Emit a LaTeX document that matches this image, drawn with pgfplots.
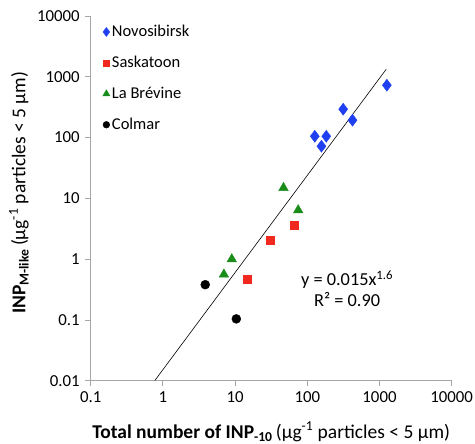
\documentclass[border=0pt]{standalone}
\usepackage{fontspec}
\setmainfont{Carlito}
\usepackage{pgfplots}
\pgfplotsset{compat=1.18}
\definecolor{novo}{HTML}{1F3FF0}
\definecolor{sask}{HTML}{F0281E}
\definecolor{brev}{HTML}{1A8C1A}
\definecolor{axgray}{HTML}{A6A6A6}
\begin{document}
\begin{tikzpicture}
\path[use as bounding box] (-90.7pt,-63.3pt) rectangle (384.3pt,380.7pt);
\begin{axis}[
  at={(0pt,0pt)}, anchor=south west,
  scale only axis, width=361pt, height=364.7pt,
  xmode=log, ymode=log,
  xmin=0.1, xmax=10000, ymin=0.01, ymax=10000,
  axis x line*=bottom, axis y line*=left,
  axis line style={axgray, line width=0.8pt, -},
  xtick={0.1,1,10,100,1000,10000},
  xticklabels={0.1,1,10,100,1000,10000},
  ytick={0.01,0.1,1,10,100,1000,10000},
  yticklabels={0.01,0.1,1,10,100,1000,10000},
  xminorticks=false, yminorticks=false,
  tick align=outside, major tick length=5.5pt,
  every tick/.style={axgray, line width=0.8pt},
  tick label style={font=\fontsize{16.8}{20}\selectfont, black},
  xticklabel shift=2pt, yticklabel shift=2pt,
  /pgf/number format/assume math mode=true,
  xlabel={\textbf{Total number of INP\textsubscript{-10}}\,(μg\textsuperscript{-1} particles < 5 μm)},
  ylabel={\textbf{INP\textsubscript{M-like}}\,(μg\textsuperscript{-1} particles < 5 μm)},
  label style={font=\fontsize{19.5}{23}\selectfont},
  xlabel style={at={(axis description cs:0.5,-0.1407)}, anchor=center},
  ylabel style={at={(axis description cs:-0.1986,0.515)}, anchor=center},
  legend style={at={(rel axis cs:0.033,0.98)}, anchor=north west, draw=none, fill=none,
    font=\fontsize{16.5}{20}\selectfont, row sep=14pt, inner sep=0pt,
    /tikz/every even column/.append style={column sep=2pt}},
  legend cell align=left,
  legend image code/.code={\draw[#1, /tikz/every mark/.append style={scale=0.75}] plot coordinates {(0pt,0pt)};},
  clip=false,
]
\addplot[only marks, mark=diamond*, mark size=6pt, color=novo] coordinates {
  (1265,727) (314,293) (423,193) (127,105) (183,105) (157,72)
};
\addlegendentry{Novosibirsk}
\addplot[only marks, mark=square*, mark size=4pt, color=sask] coordinates {
  (65.9,3.6) (30.6,2.05) (14.7,0.47)
};
\addlegendentry{Saskatoon}
\addplot[only marks, mark=triangle*, mark size=5.5pt, color=brev] coordinates {
  (46.8,14.9) (74.8,6.4) (9.0,1.0) (7.0,0.56)
};
\addlegendentry{La Brévine}
\addplot[only marks, mark=*, mark size=4.5pt, color=black] coordinates {
  (3.86,0.38) (10.4,0.104)
};
\addlegendentry{Colmar}
\addplot[black, line width=0.6pt, forget plot] coordinates {(0.775,0.0101) (1240,1333)};
\node[align=center, font=\fontsize{18.3}{21}\selectfont] at (axis cs:357,0.33)
  {y = 0.015x\textsuperscript{1.6}\\R² = 0.90};
\end{axis}
\end{tikzpicture}
\end{document}
